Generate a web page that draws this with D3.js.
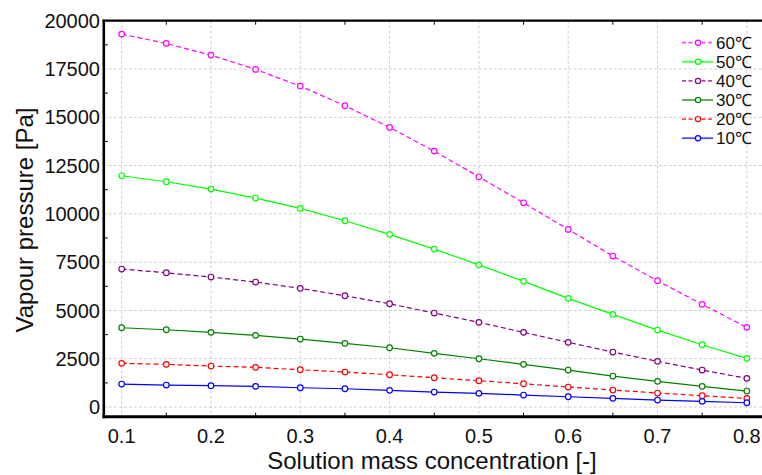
<!DOCTYPE html>
<html>
<head>
<meta charset="utf-8">
<script src="https://cdn.jsdelivr.net/npm/d3@7"></script>
<style>
    body { margin: 0; background: #fff; }
    svg { display: block; font-family: "Liberation Sans", Arial, sans-serif; }
</style>
</head>
<body>
<div id="my_dataviz"></div>
<script>
/* solution mass concentration */
const concentration = [0.1, 0.15, 0.2, 0.25, 0.3, 0.35, 0.4, 0.45, 0.5, 0.55, 0.6, 0.65, 0.7, 0.75, 0.8];

/* vapour pressure [Pa] per temperature */
const p60 = [19306, 18825, 18219, 17479, 16615, 15596, 14477, 13250, 11920, 10574, 9197, 7816, 6537, 5316, 4125];
const p50 = [11972, 11662, 11284, 10818, 10284, 9643, 8939, 8178, 7360, 6506, 5626, 4798, 3985, 3225, 2521];
const p40 = [7143, 6952, 6729, 6470, 6144, 5761, 5347, 4865, 4384, 3866, 3349, 2847, 2365, 1915, 1485];
const p30 = [4105, 4001, 3866, 3711, 3520, 3297, 3069, 2779, 2500, 2210, 1915, 1605, 1330, 1071, 828];
const p20 = [2262, 2210, 2122, 2055, 1931, 1812, 1672, 1517, 1361, 1206, 1035, 880, 725, 585, 450];
const p10 = [1190, 1139, 1104, 1071, 999, 947, 864, 776, 709, 621, 533, 450, 362, 295, 223];

const series_names = ["60\u2103", "50\u2103", "40\u2103", "30\u2103", "20\u2103", "10\u2103"];
const series_values = [p60, p50, p40, p30, p20, p10];
const series_colors = ["#ff00ff", "#00ff00", "#800080", "#008000", "#ff0000", "#0000ff"];
const series_dashed = [true, false, true, false, true, false];

const x_ticks = [0.1, 0.2, 0.3, 0.4, 0.5, 0.6, 0.7, 0.8];
const y_ticks = [0, 2500, 5000, 7500, 10000, 12500, 15000, 17500, 20000];

const W = 762, H = 475;
const plot = { left: 103.8, right: 764.7, top: 20.7, bottom: 416.7 };

const svg = d3.select("#my_dataviz")
    .append("svg")
    .attr("width", W)
    .attr("height", H);

const x = d3.scaleLinear().domain([0.08, 0.82]).range([plot.left, plot.right]);
const y = d3.scaleLinear().domain([-500, 20000]).range([plot.bottom, plot.top]);

/* grid */
const grid = svg.append("g");
grid.selectAll(".gx").data(x_ticks).join("line")
    .attr("x1", d => x(d)).attr("x2", d => x(d))
    .attr("y1", plot.top).attr("y2", plot.bottom)
    .attr("stroke", "#cfcfcf").attr("stroke-width", 1).attr("stroke-dasharray", "3,2");
grid.selectAll(".gy").data(y_ticks).join("line")
    .attr("x1", plot.left).attr("x2", W)
    .attr("y1", d => y(d)).attr("y2", d => y(d))
    .attr("stroke", "#cfcfcf").attr("stroke-width", 1).attr("stroke-dasharray", "3,2");

/* minor ticks, pointing inwards */
const x_minor = d3.range(0.15, 0.8, 0.1);
const y_minor = d3.range(1250, 20000, 2500);
svg.append("g").selectAll("line").data(x_minor).join("line")
    .attr("x1", d => x(d)).attr("x2", d => x(d))
    .attr("y1", plot.bottom).attr("y2", plot.bottom - 4)
    .attr("stroke", "#000");
svg.append("g").selectAll("line").data(x_minor).join("line")
    .attr("x1", d => x(d)).attr("x2", d => x(d))
    .attr("y1", plot.top).attr("y2", plot.top + 4)
    .attr("stroke", "#000");
svg.append("g").selectAll("line").data(y_minor).join("line")
    .attr("x1", plot.left).attr("x2", plot.left + 4)
    .attr("y1", d => y(d)).attr("y2", d => y(d))
    .attr("stroke", "#000");

/* series */
const line = d3.line()
    .x((d, i) => x(concentration[i]))
    .y(d => y(d));

series_values.forEach((vals, k) => {
    const g = svg.append("g");
    g.append("path")
        .datum(vals)
        .attr("d", line)
        .attr("fill", "none")
        .attr("stroke", series_colors[k])
        .attr("stroke-width", 1.2)
        .attr("stroke-dasharray", series_dashed[k] ? "5,3" : null);
    g.selectAll("circle").data(vals).join("circle")
        .attr("cx", (d, i) => x(concentration[i]))
        .attr("cy", d => y(d))
        .attr("r", 2.8)
        .attr("fill", "#fff")
        .attr("stroke", series_colors[k])
        .attr("stroke-width", 1.2);
});

/* axes frame */
svg.append("line")
    .attr("x1", plot.left).attr("x2", plot.left)
    .attr("y1", plot.top - 1).attr("y2", plot.bottom + 1.5)
    .attr("stroke", "#000").attr("stroke-width", 2.6);
svg.append("line")
    .attr("x1", plot.left - 1.3).attr("x2", W)
    .attr("y1", plot.bottom).attr("y2", plot.bottom)
    .attr("stroke", "#000").attr("stroke-width", 3);
svg.append("line")
    .attr("x1", plot.left - 1.3).attr("x2", W)
    .attr("y1", plot.top).attr("y2", plot.top)
    .attr("stroke", "#000").attr("stroke-width", 2.2);

/* tick labels */
svg.append("g").selectAll("text").data(y_ticks).join("text")
    .attr("x", 100)
    .attr("y", d => y(d))
    .attr("dy", "0.36em")
    .attr("text-anchor", "end")
    .attr("font-size", 20)
    .attr("fill", "#111")
    .text(d => d);
svg.append("g").selectAll("text").data(x_ticks).join("text")
    .attr("x", d => x(d))
    .attr("y", 443)
    .attr("text-anchor", "middle")
    .attr("font-size", 20)
    .attr("fill", "#111")
    .text(d => d3.format(".1f")(d));

/* axis titles */
svg.append("text")
    .attr("x", 432)
    .attr("y", 469)
    .attr("text-anchor", "middle")
    .attr("font-size", 24)
    .attr("fill", "#111")
    .text("Solution mass concentration [-]");
svg.append("text")
    .attr("transform", "translate(33,220) rotate(-90)")
    .attr("text-anchor", "middle")
    .attr("font-size", 24)
    .attr("fill", "#111")
    .text("Vapour pressure [Pa]");

/* legend */
const legend = svg.append("g");
series_names.forEach((name, k) => {
    const ly = 42.7 + k * 19.1;
    legend.append("line")
        .attr("x1", 682).attr("x2", 713)
        .attr("y1", ly).attr("y2", ly)
        .attr("stroke", series_colors[k])
        .attr("stroke-opacity", 0.7)
        .attr("stroke-width", 1.8)
        .attr("stroke-dasharray", series_dashed[k] ? "4,2.5" : null);
    legend.append("circle")
        .attr("cx", 698).attr("cy", ly).attr("r", 2.6)
        .attr("fill", "#fff")
        .attr("stroke", series_colors[k])
        .attr("stroke-width", 1.2);
    legend.append("text")
        .attr("x", 716)
        .attr("y", ly)
        .attr("dy", "0.36em")
        .attr("font-size", 17)
        .attr("fill", "#111")
        .text(name);
});
</script>
</body>
</html>
